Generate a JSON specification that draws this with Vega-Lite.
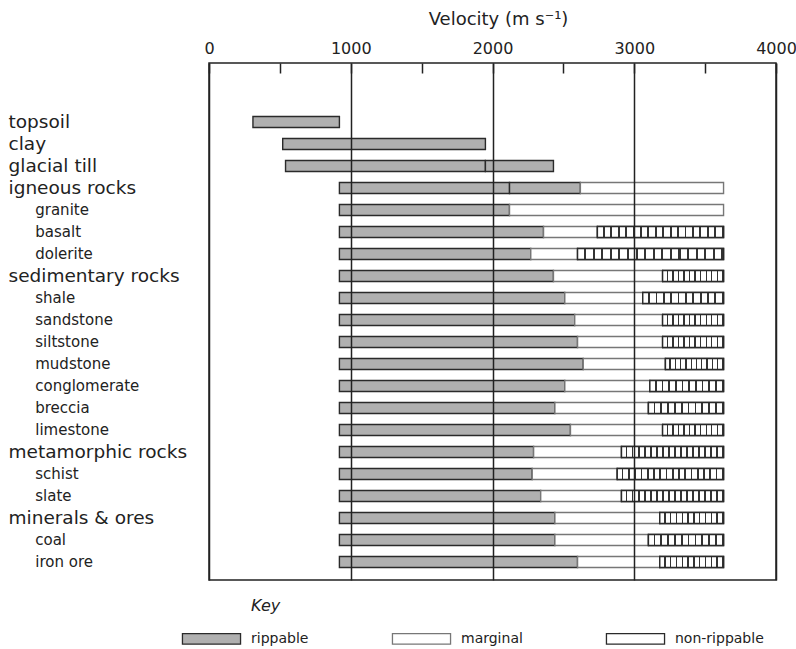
{
  "$schema": "https://vega.github.io/schema/vega-lite/v6.json",
  "width": 567,
  "height": 517,
  "padding": {"left": 8, "top": 10, "right": 10, "bottom": 5},
  "background": "white",
  "config": {
    "font": "DejaVu Sans",
    "view": {"stroke": "#222", "strokeWidth": 1.5}
  },
  "data": {
    "values": [
      {"material": "topsoil", "class": "rippable", "start": 310, "end": 920},
      {"material": "clay", "class": "rippable", "start": 520, "end": 1950},
      {"material": "glacial till", "class": "rippable", "start": 540, "end": 1950},
      {"material": "glacial till", "class": "rippable", "start": 1950, "end": 2430},
      {"material": "igneous rocks", "class": "rippable", "start": 920, "end": 2120},
      {"material": "igneous rocks", "class": "rippable", "start": 2120, "end": 2620},
      {"material": "igneous rocks", "class": "marginal", "start": 2620, "end": 3630},
      {"material": "granite", "class": "rippable", "start": 920, "end": 2120},
      {"material": "granite", "class": "marginal", "start": 2120, "end": 3630},
      {"material": "basalt", "class": "rippable", "start": 920, "end": 2360},
      {"material": "basalt", "class": "marginal", "start": 2360, "end": 2740},
      {"material": "basalt", "class": "non-rippable", "start": 2740, "end": 3630},
      {"material": "dolerite", "class": "rippable", "start": 920, "end": 2270},
      {"material": "dolerite", "class": "marginal", "start": 2270, "end": 2600},
      {"material": "dolerite", "class": "non-rippable", "start": 2600, "end": 3630},
      {"material": "sedimentary rocks", "class": "rippable", "start": 920, "end": 2430},
      {"material": "sedimentary rocks", "class": "marginal", "start": 2430, "end": 3200},
      {"material": "sedimentary rocks", "class": "non-rippable", "start": 3200, "end": 3630},
      {"material": "shale", "class": "rippable", "start": 920, "end": 2510},
      {"material": "shale", "class": "marginal", "start": 2510, "end": 3060},
      {"material": "shale", "class": "non-rippable", "start": 3060, "end": 3630},
      {"material": "sandstone", "class": "rippable", "start": 920, "end": 2580},
      {"material": "sandstone", "class": "marginal", "start": 2580, "end": 3200},
      {"material": "sandstone", "class": "non-rippable", "start": 3200, "end": 3630},
      {"material": "siltstone", "class": "rippable", "start": 920, "end": 2600},
      {"material": "siltstone", "class": "marginal", "start": 2600, "end": 3200},
      {"material": "siltstone", "class": "non-rippable", "start": 3200, "end": 3630},
      {"material": "mudstone", "class": "rippable", "start": 920, "end": 2640},
      {"material": "mudstone", "class": "marginal", "start": 2640, "end": 3220},
      {"material": "mudstone", "class": "non-rippable", "start": 3220, "end": 3630},
      {"material": "conglomerate", "class": "rippable", "start": 920, "end": 2510},
      {"material": "conglomerate", "class": "marginal", "start": 2510, "end": 3110},
      {"material": "conglomerate", "class": "non-rippable", "start": 3110, "end": 3630},
      {"material": "breccia", "class": "rippable", "start": 920, "end": 2440},
      {"material": "breccia", "class": "marginal", "start": 2440, "end": 3100},
      {"material": "breccia", "class": "non-rippable", "start": 3100, "end": 3630},
      {"material": "limestone", "class": "rippable", "start": 920, "end": 2550},
      {"material": "limestone", "class": "marginal", "start": 2550, "end": 3200},
      {"material": "limestone", "class": "non-rippable", "start": 3200, "end": 3630},
      {"material": "metamorphic rocks", "class": "rippable", "start": 920, "end": 2290},
      {"material": "metamorphic rocks", "class": "marginal", "start": 2290, "end": 2910},
      {"material": "metamorphic rocks", "class": "non-rippable", "start": 2910, "end": 3630},
      {"material": "schist", "class": "rippable", "start": 920, "end": 2280},
      {"material": "schist", "class": "marginal", "start": 2280, "end": 2880},
      {"material": "schist", "class": "non-rippable", "start": 2880, "end": 3630},
      {"material": "slate", "class": "rippable", "start": 920, "end": 2340},
      {"material": "slate", "class": "marginal", "start": 2340, "end": 2910},
      {"material": "slate", "class": "non-rippable", "start": 2910, "end": 3630},
      {"material": "minerals & ores", "class": "rippable", "start": 920, "end": 2440},
      {"material": "minerals & ores", "class": "marginal", "start": 2440, "end": 3180},
      {"material": "minerals & ores", "class": "non-rippable", "start": 3180, "end": 3630},
      {"material": "coal", "class": "rippable", "start": 920, "end": 2440},
      {"material": "coal", "class": "marginal", "start": 2440, "end": 3100},
      {"material": "coal", "class": "non-rippable", "start": 3100, "end": 3630},
      {"material": "iron ore", "class": "rippable", "start": 920, "end": 2600},
      {"material": "iron ore", "class": "marginal", "start": 2600, "end": 3180},
      {"material": "iron ore", "class": "non-rippable", "start": 3180, "end": 3630}
    ]
  },
  "encoding": {
    "y": {
      "field": "material",
      "type": "nominal",
      "scale": {
        "domain": [" ", "topsoil", "clay", "glacial till", "igneous rocks", "granite", "basalt", "dolerite", "sedimentary rocks", "shale", "sandstone", "siltstone", "mudstone", "conglomerate", "breccia", "limestone", "metamorphic rocks", "schist", "slate", "minerals & ores", "coal", "iron ore"],
        "paddingInner": 0,
        "paddingOuter": 0.75,
        "align": 0.788
      },
      "axis": {
        "title": null,
        "domain": false,
        "ticks": false,
        "labelAlign": "left",
        "labelPadding": 201,
        "labelLimit": 260,
        "labelColor": "#222",
        "labelExpr": "datum.value === ' ' ? '' : (indexof(['topsoil','clay','glacial till','igneous rocks','sedimentary rocks','metamorphic rocks','minerals & ores'], datum.value) >= 0 ? datum.value : '⠀⠀ ' + datum.value)",
        "labelFontSize": {
          "condition": {"test": "indexof(['topsoil','clay','glacial till','igneous rocks','sedimentary rocks','metamorphic rocks','minerals & ores'], datum.value) >= 0", "value": 18.5},
          "value": 15
        }
      }
    },
    "x": {
      "field": "start",
      "type": "quantitative",
      "scale": {"domain": [0, 4000], "nice": false, "zero": false},
      "axis": {
        "orient": "top",
        "title": "Velocity (m s⁻¹)",
        "titleFontSize": 18,
        "titleFontWeight": "normal",
        "titleColor": "#222",
        "titlePadding": 12,
        "titleX": 289,
        "values": [0, 500, 1000, 1500, 2000, 2500, 3000, 3500, 4000],
        "format": "d",
        "labelExpr": "datum.value % 1000 === 0 ? datum.label : ''",
        "labelFontSize": 16,
        "labelColor": "#222",
        "labelFlush": false,
        "labelPadding": 17,
        "domain": false,
        "tickSize": -10,
        "tickColor": "#222",
        "tickWidth": 1.5,
        "grid": true,
        "gridColor": "#222",
        "gridWidth": 1.5,
        "gridOpacity": {"condition": {"test": "datum.value % 1000 !== 0", "value": 0}, "value": 1},
        "zindex": 1
      }
    },
    "x2": {"field": "end"}
  },
  "layer": [
    {
      "mark": {"type": "bar", "height": {"band": 0.5}, "strokeWidth": 1.4},
      "encoding": {
        "fill": {
          "field": "class",
          "type": "nominal",
          "scale": {"domain": ["rippable", "marginal", "non-rippable"], "range": ["#b0b0b0", "#ffffff", "#ffffff"]},
          "legend": {
            "orient": "none",
            "legendX": -10,
            "legendY": 535,
            "direction": "horizontal",
            "title": "Key",
            "titleFontStyle": "italic",
            "titleFontWeight": "normal",
            "titleFontSize": 16,
            "titleColor": "#222",
            "titlePadding": 12,
            "symbolType": "M-2.5,-0.45H2.5V0.45H-2.5Z",
            "symbolSize": 540,
            "symbolStrokeWidth": 1.3,
            "symbolStrokeColor": "#2a2a2a",
            "labelOffset": 27,
            "labelFontSize": 14,
            "labelColor": "#222",
            "columnPadding": 80,
            "encode": {
              "title": {"update": {"dx": {"value": 52}}},
              "symbols": {
                "update": {
                  "fill": [
                    {"test": "datum.value === 'non-rippable'", "value": {"gradient": "linear", "x1": 0, "y1": 0, "x2": 1, "y2": 0, "stops": [
                      {"offset": 0, "color": "#ffffff"}, {"offset": 0.075, "color": "#ffffff"}, {"offset": 0.075, "color": "#333333"}, {"offset": 0.1, "color": "#333333"},
                      {"offset": 0.1, "color": "#ffffff"}, {"offset": 0.175, "color": "#ffffff"}, {"offset": 0.175, "color": "#333333"}, {"offset": 0.2, "color": "#333333"},
                      {"offset": 0.2, "color": "#ffffff"}, {"offset": 0.275, "color": "#ffffff"}, {"offset": 0.275, "color": "#333333"}, {"offset": 0.3, "color": "#333333"},
                      {"offset": 0.3, "color": "#ffffff"}, {"offset": 0.375, "color": "#ffffff"}, {"offset": 0.375, "color": "#333333"}, {"offset": 0.4, "color": "#333333"},
                      {"offset": 0.4, "color": "#ffffff"}, {"offset": 0.475, "color": "#ffffff"}, {"offset": 0.475, "color": "#333333"}, {"offset": 0.5, "color": "#333333"},
                      {"offset": 0.5, "color": "#ffffff"}, {"offset": 0.575, "color": "#ffffff"}, {"offset": 0.575, "color": "#333333"}, {"offset": 0.6, "color": "#333333"},
                      {"offset": 0.6, "color": "#ffffff"}, {"offset": 0.675, "color": "#ffffff"}, {"offset": 0.675, "color": "#333333"}, {"offset": 0.7, "color": "#333333"},
                      {"offset": 0.7, "color": "#ffffff"}, {"offset": 0.775, "color": "#ffffff"}, {"offset": 0.775, "color": "#333333"}, {"offset": 0.8, "color": "#333333"},
                      {"offset": 0.8, "color": "#ffffff"}, {"offset": 0.875, "color": "#ffffff"}, {"offset": 0.875, "color": "#333333"}, {"offset": 0.9, "color": "#333333"},
                      {"offset": 0.9, "color": "#ffffff"}, {"offset": 0.975, "color": "#ffffff"}, {"offset": 0.975, "color": "#333333"}, {"offset": 1, "color": "#333333"}
                    ]}},
                    {"scale": "fill", "field": "value"}
                  ]
                }
              }
            }
          }
        },
        "stroke": {
          "field": "class",
          "type": "nominal",
          "scale": {"domain": ["rippable", "marginal", "non-rippable"], "range": ["#2a2a2a", "#777777", "#2a2a2a"]},
          "legend": null
        }
      }
    },
    {
      "transform": [{"filter": "datum.class === 'non-rippable' && datum.end - datum.start >= 700"}],
      "mark": {
        "type": "bar",
        "height": {"band": 0.5},
        "strokeWidth": 1.4,
        "stroke": "#2a2a2a",
        "fill": {"gradient": "linear", "x1": 0, "y1": 0, "x2": 1, "y2": 0, "stops": [
          {"offset": 0, "color": "#ffffff"}, {"offset": 0.0441, "color": "#ffffff"}, {"offset": 0.0441, "color": "#333333"}, {"offset": 0.0588, "color": "#333333"},
          {"offset": 0.0588, "color": "#ffffff"}, {"offset": 0.1029, "color": "#ffffff"}, {"offset": 0.1029, "color": "#333333"}, {"offset": 0.1176, "color": "#333333"},
          {"offset": 0.1176, "color": "#ffffff"}, {"offset": 0.1618, "color": "#ffffff"}, {"offset": 0.1618, "color": "#333333"}, {"offset": 0.1765, "color": "#333333"},
          {"offset": 0.1765, "color": "#ffffff"}, {"offset": 0.2206, "color": "#ffffff"}, {"offset": 0.2206, "color": "#333333"}, {"offset": 0.2353, "color": "#333333"},
          {"offset": 0.2353, "color": "#ffffff"}, {"offset": 0.2794, "color": "#ffffff"}, {"offset": 0.2794, "color": "#333333"}, {"offset": 0.2941, "color": "#333333"},
          {"offset": 0.2941, "color": "#ffffff"}, {"offset": 0.3382, "color": "#ffffff"}, {"offset": 0.3382, "color": "#333333"}, {"offset": 0.3529, "color": "#333333"},
          {"offset": 0.3529, "color": "#ffffff"}, {"offset": 0.3971, "color": "#ffffff"}, {"offset": 0.3971, "color": "#333333"}, {"offset": 0.4118, "color": "#333333"},
          {"offset": 0.4118, "color": "#ffffff"}, {"offset": 0.4559, "color": "#ffffff"}, {"offset": 0.4559, "color": "#333333"}, {"offset": 0.4706, "color": "#333333"},
          {"offset": 0.4706, "color": "#ffffff"}, {"offset": 0.5147, "color": "#ffffff"}, {"offset": 0.5147, "color": "#333333"}, {"offset": 0.5294, "color": "#333333"},
          {"offset": 0.5294, "color": "#ffffff"}, {"offset": 0.5735, "color": "#ffffff"}, {"offset": 0.5735, "color": "#333333"}, {"offset": 0.5882, "color": "#333333"},
          {"offset": 0.5882, "color": "#ffffff"}, {"offset": 0.6324, "color": "#ffffff"}, {"offset": 0.6324, "color": "#333333"}, {"offset": 0.6471, "color": "#333333"},
          {"offset": 0.6471, "color": "#ffffff"}, {"offset": 0.6912, "color": "#ffffff"}, {"offset": 0.6912, "color": "#333333"}, {"offset": 0.7059, "color": "#333333"},
          {"offset": 0.7059, "color": "#ffffff"}, {"offset": 0.75, "color": "#ffffff"}, {"offset": 0.75, "color": "#333333"}, {"offset": 0.7647, "color": "#333333"},
          {"offset": 0.7647, "color": "#ffffff"}, {"offset": 0.8088, "color": "#ffffff"}, {"offset": 0.8088, "color": "#333333"}, {"offset": 0.8235, "color": "#333333"},
          {"offset": 0.8235, "color": "#ffffff"}, {"offset": 0.8676, "color": "#ffffff"}, {"offset": 0.8676, "color": "#333333"}, {"offset": 0.8824, "color": "#333333"},
          {"offset": 0.8824, "color": "#ffffff"}, {"offset": 0.9265, "color": "#ffffff"}, {"offset": 0.9265, "color": "#333333"}, {"offset": 0.9412, "color": "#333333"},
          {"offset": 0.9412, "color": "#ffffff"}, {"offset": 0.9853, "color": "#ffffff"}, {"offset": 0.9853, "color": "#333333"}, {"offset": 1, "color": "#333333"}
        ]}
      }
    },
    {
      "transform": [{"filter": "datum.class === 'non-rippable' && datum.end - datum.start < 700"}],
      "mark": {
        "type": "bar",
        "height": {"band": 0.5},
        "strokeWidth": 1.4,
        "stroke": "#2a2a2a",
        "fill": {"gradient": "linear", "x1": 0, "y1": 0, "x2": 1, "y2": 0, "stops": [
          {"offset": 0, "color": "#ffffff"}, {"offset": 0.0682, "color": "#ffffff"}, {"offset": 0.0682, "color": "#333333"}, {"offset": 0.0909, "color": "#333333"},
          {"offset": 0.0909, "color": "#ffffff"}, {"offset": 0.1591, "color": "#ffffff"}, {"offset": 0.1591, "color": "#333333"}, {"offset": 0.1818, "color": "#333333"},
          {"offset": 0.1818, "color": "#ffffff"}, {"offset": 0.25, "color": "#ffffff"}, {"offset": 0.25, "color": "#333333"}, {"offset": 0.2727, "color": "#333333"},
          {"offset": 0.2727, "color": "#ffffff"}, {"offset": 0.3409, "color": "#ffffff"}, {"offset": 0.3409, "color": "#333333"}, {"offset": 0.3636, "color": "#333333"},
          {"offset": 0.3636, "color": "#ffffff"}, {"offset": 0.4318, "color": "#ffffff"}, {"offset": 0.4318, "color": "#333333"}, {"offset": 0.4545, "color": "#333333"},
          {"offset": 0.4545, "color": "#ffffff"}, {"offset": 0.5227, "color": "#ffffff"}, {"offset": 0.5227, "color": "#333333"}, {"offset": 0.5455, "color": "#333333"},
          {"offset": 0.5455, "color": "#ffffff"}, {"offset": 0.6136, "color": "#ffffff"}, {"offset": 0.6136, "color": "#333333"}, {"offset": 0.6364, "color": "#333333"},
          {"offset": 0.6364, "color": "#ffffff"}, {"offset": 0.7045, "color": "#ffffff"}, {"offset": 0.7045, "color": "#333333"}, {"offset": 0.7273, "color": "#333333"},
          {"offset": 0.7273, "color": "#ffffff"}, {"offset": 0.7955, "color": "#ffffff"}, {"offset": 0.7955, "color": "#333333"}, {"offset": 0.8182, "color": "#333333"},
          {"offset": 0.8182, "color": "#ffffff"}, {"offset": 0.8864, "color": "#ffffff"}, {"offset": 0.8864, "color": "#333333"}, {"offset": 0.9091, "color": "#333333"},
          {"offset": 0.9091, "color": "#ffffff"}, {"offset": 0.9773, "color": "#ffffff"}, {"offset": 0.9773, "color": "#333333"}, {"offset": 1, "color": "#333333"}
        ]}
      }
    }
  ]
}
